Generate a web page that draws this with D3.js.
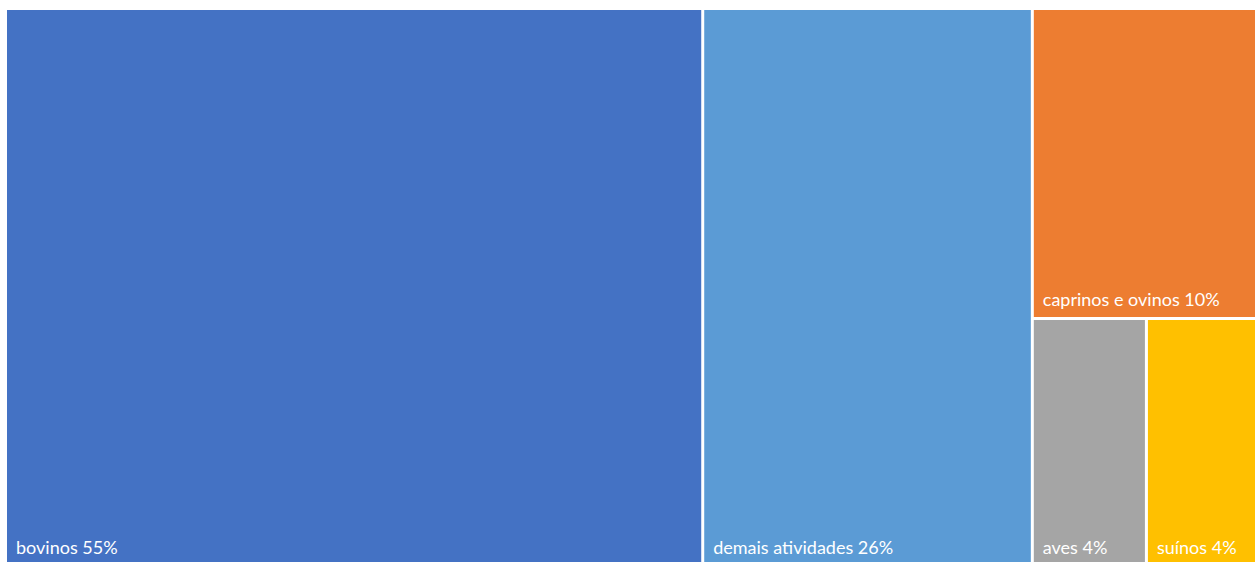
<!DOCTYPE html>
<html>
<head>
<meta charset="utf-8">
<script src="https://cdn.jsdelivr.net/npm/d3@7"></script>
<style>
  html, body { margin: 0; padding: 0; background: #ffffff; overflow: hidden; }
  svg { display: block; }
  text { font-family: Lato, "Open Sans", sans-serif; }
</style>
</head>
<body>
<svg id="chart" width="1255" height="562"></svg>
<script>
// Share of each activity (%)
const categories = ["bovinos", "demais atividades", "caprinos e ovinos", "aves", "suínos"];
const values = [55, 26, 10, 4, 4];
const colors = ["#4472C4", "#5B9BD5", "#ED7D31", "#A5A5A5", "#FFC000"];

const width = 1255, height = 562;
const area = { x0: 7, y0: 10, x1: 1259, y1: 565 };

const items = categories.map((name, i) => ({ name, value: values[i], color: colors[i] }));

// Nested layout: two large columns, then a column holding the smaller items
const tree = {
  name: "root",
  children: [
    items[0],
    items[1],
    { name: "g1", children: [items[2], { name: "g2", children: [items[3], items[4]] }] }
  ]
};

const root = d3.hierarchy(tree).sum(d => d.children ? 0 : d.value);

const treemap = d3.treemap()
  .size([area.x1 - area.x0, area.y1 - area.y0])
  .paddingInner(3)
  .round(false)
  .tile((node, x0, y0, x1, y1) =>
    (node.depth % 2 === 0 ? d3.treemapDice : d3.treemapSlice)(node, x0, y0, x1, y1));

treemap(root);

const svg = d3.select("#chart");
const g = svg.append("g").attr("transform", `translate(${area.x0},${area.y0})`);

const leaves = g.selectAll("g.cell")
  .data(root.leaves())
  .join("g")
  .attr("class", "cell");

leaves.append("rect")
  .attr("x", d => d.x0)
  .attr("y", d => d.y0)
  .attr("width", d => d.x1 - d.x0)
  .attr("height", d => d.y1 - d.y0)
  .attr("fill", d => d.data.color);

leaves.append("text")
  .attr("x", d => d.x0 + 9)
  .attr("y", d => d.y1 - 11)
  .attr("fill", "#ffffff")
  .attr("font-size", 18)
  .text(d => `${d.data.name} ${d.data.value}%`);
</script>
</body>
</html>
